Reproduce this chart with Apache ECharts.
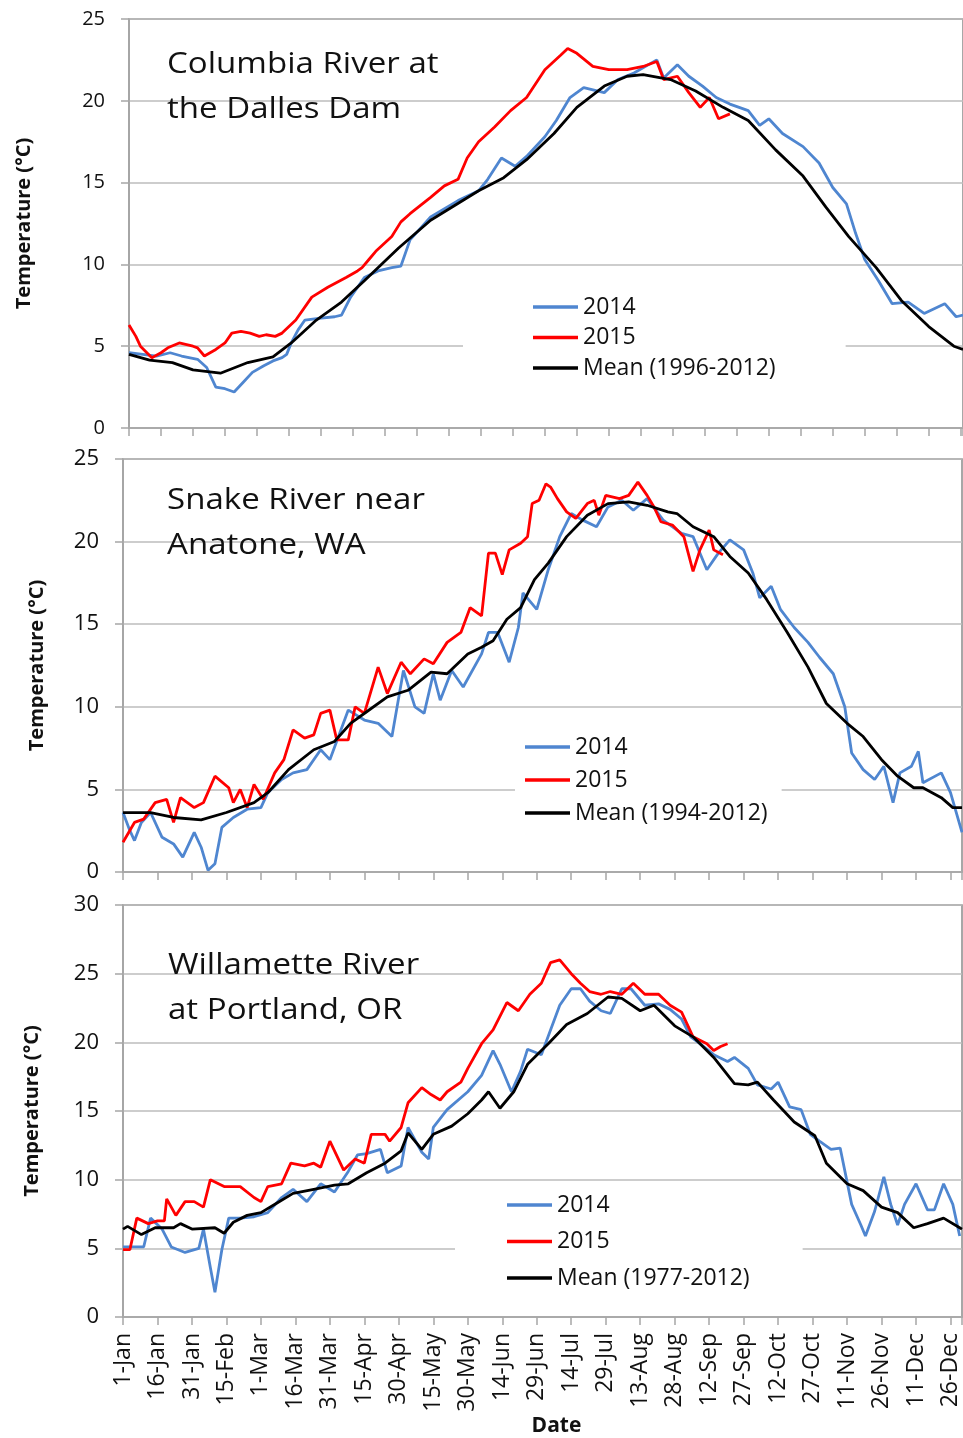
<!DOCTYPE html>
<html>
<head>
<meta charset="utf-8">
<script src="https://cdn.jsdelivr.net/npm/echarts@6/dist/echarts.min.js"></script>
<style>
  html, body { margin: 0; padding: 0; background: #fff; }
  #chart { width: 963px; height: 1438px; }
</style>
</head>
<body>
<div id="chart"></div>
<script>
// day of year (0 = 1-Jan) and temperature in degC
const tickLabels = ['1-Jan', '16-Jan', '31-Jan', '15-Feb', '1-Mar', '16-Mar', '31-Mar', '15-Apr', '30-Apr',
  '15-May', '30-May', '14-Jun', '29-Jun', '14-Jul', '29-Jul', '13-Aug', '28-Aug', '12-Sep', '27-Sep',
  '12-Oct', '27-Oct', '11-Nov', '26-Nov', '11-Dec', '26-Dec'];

const seriesNames = ['2014', '2015'];
const meanNames = ['Mean (1996-2012)', 'Mean (1994-2012)', 'Mean (1977-2012)'];
const panelTitles = ['Columbia River at\nthe Dalles Dam', 'Snake River near\nAnatone, WA', 'Willamette River\nat Portland, OR'];
const yMax = [25, 25, 30];

// Columbia River at the Dalles Dam
const colMean = [[0,4.5],[9,4.15],[19,4.0],[28,3.55],[40,3.35],[52,4.0],[63,4.35],[71,5.2],[82,6.6],[93,7.7],[103,9.0],[118,11.0],[132,12.7],[153,14.5],[164,15.3],[174,16.4],[186,18.0],[196,19.6],[208,20.9],[218,21.5],[225,21.6],[237,21.3],[248,20.6],[260,19.6],[271,18.8],[283,17.0],[295,15.4],[305,13.5],[315,11.7],[327,9.8],[338,7.8],[350,6.2],[361,5.0],[365,4.8]];
const col2014 = [[0,4.6],[6,4.5],[12,4.4],[18,4.6],[23,4.4],[30,4.2],[34,3.7],[38,2.5],[42,2.4],[46,2.2],[50,2.8],[54,3.4],[59,3.8],[63,4.1],[67,4.3],[69,4.5],[71,5.2],[74,6.0],[77,6.6],[83,6.7],[90,6.8],[93,6.9],[97,8.0],[103,9.2],[109,9.6],[115,9.8],[119,9.9],[123,11.5],[132,12.9],[144,13.9],[153,14.5],[157,15.2],[163,16.5],[169,16.0],[174,16.6],[182,17.8],[187,18.8],[193,20.2],[199,20.8],[208,20.5],[214,21.3],[221,21.7],[231,22.5],[234,21.4],[240,22.2],[245,21.5],[251,20.9],[257,20.2],[263,19.8],[271,19.4],[276,18.5],[280,18.9],[286,18.0],[295,17.2],[302,16.2],[308,14.7],[314,13.7],[318,11.9],[322,10.3],[328,9.0],[334,7.6],[341,7.7],[348,7.0],[357,7.6],[362,6.8],[365,6.9]];
const col2015 = [[0,6.3],[3,5.6],[5,5.0],[10,4.3],[14,4.6],[17,4.9],[22,5.2],[28,5.0],[30,4.9],[33,4.4],[38,4.8],[42,5.2],[45,5.8],[49,5.9],[53,5.8],[57,5.6],[60,5.7],[64,5.6],[67,5.8],[73,6.6],[80,8.0],[87,8.6],[95,9.2],[100,9.6],[102,9.8],[105,10.3],[108,10.8],[115,11.7],[119,12.6],[123,13.1],[132,14.1],[138,14.8],[144,15.2],[148,16.5],[153,17.5],[160,18.4],[167,19.4],[174,20.2],[182,21.9],[189,22.8],[192,23.2],[196,22.9],[203,22.1],[210,21.9],[218,21.9],[225,22.1],[231,22.4],[234,21.3],[240,21.5],[245,20.5],[250,19.6],[254,20.2],[258,18.9],[263,19.2]];

// Snake River near Anatone, WA
const snkMean = [[0,3.6],[12,3.6],[22,3.3],[34,3.15],[45,3.6],[57,4.2],[63,4.8],[72,6.2],[83,7.4],[92,7.9],[99,9.0],[106,9.7],[115,10.6],[124,11.0],[134,12.1],[141,12.0],[150,13.2],[156,13.6],[161,14.0],[167,15.3],[173,16.0],[179,17.7],[185,18.7],[193,20.3],[202,21.6],[211,22.3],[220,22.4],[228,22.2],[237,21.8],[241,21.7],[248,20.9],[257,20.3],[264,19.1],[272,18.1],[280,16.5],[289,14.5],[298,12.4],[306,10.2],[315,9.0],[322,8.2],[330,6.8],[337,5.8],[344,5.1],[348,5.1],[356,4.5],[361,3.9],[365,3.9]];
const snk2014 = [[0,3.6],[3,2.5],[5,1.9],[8,3.0],[12,3.6],[17,2.1],[22,1.7],[26,0.9],[31,2.4],[34,1.5],[37,0.1],[40,0.5],[43,2.7],[48,3.3],[54,3.8],[60,3.9],[63,4.8],[69,5.6],[74,6.0],[80,6.2],[86,7.4],[90,6.8],[98,9.8],[105,9.2],[111,9.0],[117,8.2],[122,12.2],[127,10.0],[131,9.6],[135,12.0],[138,10.4],[143,12.2],[148,11.2],[156,13.2],[159,14.5],[163,14.5],[168,12.7],[172,14.8],[174,16.9],[180,15.9],[185,18.3],[190,20.3],[195,21.7],[200,21.3],[206,20.9],[211,22.1],[217,22.5],[222,21.9],[228,22.6],[235,21.3],[243,20.5],[248,20.3],[254,18.3],[259,19.3],[264,20.1],[270,19.5],[274,18.1],[277,16.6],[282,17.3],[286,15.9],[292,14.8],[298,13.9],[303,13.0],[309,12.0],[314,10.0],[317,7.2],[322,6.2],[327,5.6],[331,6.4],[335,4.2],[338,6.0],[343,6.4],[346,7.3],[348,5.4],[356,6.0],[360,4.8],[365,2.4]];
const snk2015 = [[0,1.8],[5,3.0],[9,3.2],[14,4.2],[19,4.4],[22,3.0],[25,4.5],[31,3.9],[35,4.2],[40,5.8],[46,5.1],[48,4.2],[51,5.0],[54,3.9],[57,5.3],[61,4.4],[66,6.0],[70,6.8],[74,8.6],[79,8.1],[83,8.3],[86,9.6],[90,9.8],[93,8.0],[98,8.0],[101,10.0],[105,9.6],[111,12.4],[115,10.8],[121,12.7],[125,12.0],[131,12.9],[135,12.6],[141,13.9],[147,14.5],[151,16.0],[156,15.5],[159,19.3],[162,19.3],[165,18.0],[168,19.5],[173,19.9],[176,20.3],[178,22.3],[181,22.5],[184,23.5],[186,23.3],[189,22.6],[193,21.8],[197,21.4],[202,22.3],[205,22.5],[207,21.6],[210,22.8],[216,22.6],[220,22.8],[224,23.6],[228,22.8],[231,22.1],[234,21.2],[239,21.0],[244,20.3],[248,18.2],[251,19.5],[255,20.7],[257,19.5],[261,19.2]];

// Willamette River at Portland, OR
const wilMean = [[0,6.4],[2,6.6],[8,6.0],[14,6.5],[22,6.5],[25,6.8],[30,6.4],[40,6.5],[44,6.1],[48,6.9],[54,7.4],[60,7.6],[67,8.3],[74,9.0],[83,9.3],[92,9.6],[98,9.7],[106,10.5],[114,11.2],[121,12.1],[124,13.4],[130,12.2],[135,13.3],[143,13.9],[150,14.8],[156,15.8],[159,16.4],[164,15.2],[170,16.4],[176,18.4],[185,19.9],[193,21.3],[202,22.1],[211,23.3],[217,23.2],[225,22.3],[231,22.7],[240,21.2],[248,20.4],[257,18.9],[266,17.0],[272,16.9],[276,17.1],[283,15.8],[292,14.2],[301,13.2],[306,11.2],[315,9.7],[322,9.2],[330,8.0],[337,7.6],[344,6.5],[350,6.8],[357,7.2],[364,6.5],[365,6.4]];
const wil2014 = [[0,5.1],[5,5.1],[9,5.1],[12,7.2],[17,6.4],[21,5.1],[27,4.7],[33,5.0],[35,6.4],[38,3.6],[40,1.8],[43,4.9],[46,7.2],[51,7.2],[57,7.3],[63,7.6],[69,8.7],[74,9.3],[80,8.4],[86,9.7],[92,9.1],[98,10.6],[102,11.8],[106,11.9],[112,12.2],[115,10.5],[121,11.0],[124,13.8],[130,12.0],[133,11.5],[135,13.8],[141,15.1],[150,16.4],[156,17.6],[161,19.4],[164,18.4],[169,16.4],[173,17.9],[176,19.5],[182,19.1],[186,20.9],[190,22.7],[195,23.9],[199,23.9],[203,23.0],[208,22.3],[212,22.1],[217,23.9],[221,23.9],[227,22.7],[233,22.8],[238,22.4],[243,21.7],[247,20.4],[251,19.9],[257,19.1],[263,18.6],[266,18.9],[272,18.1],[276,16.9],[282,16.6],[285,17.1],[290,15.3],[295,15.1],[299,13.3],[303,12.8],[308,12.2],[312,12.3],[317,8.2],[321,6.7],[323,5.9],[327,7.7],[331,10.2],[334,8.2],[337,6.7],[340,8.2],[345,9.7],[350,7.8],[353,7.8],[357,9.7],[361,8.2],[364,5.9]];
const wil2015 = [[0,4.9],[3,4.9],[6,7.2],[11,6.8],[15,7.0],[18,7.0],[19,8.6],[23,7.4],[27,8.4],[31,8.4],[35,8.0],[38,10.0],[44,9.5],[51,9.5],[57,8.7],[60,8.4],[63,9.5],[69,9.7],[73,11.2],[79,11.0],[83,11.2],[86,10.9],[90,12.8],[96,10.7],[101,11.5],[105,11.2],[108,13.3],[114,13.3],[116,12.8],[121,13.8],[124,15.6],[130,16.7],[134,16.2],[138,15.8],[141,16.4],[147,17.1],[150,18.1],[156,19.9],[161,20.9],[167,22.9],[172,22.3],[177,23.5],[182,24.3],[186,25.8],[190,26.0],[195,25.0],[199,24.3],[203,23.7],[208,23.5],[212,23.7],[217,23.5],[222,24.3],[227,23.5],[233,23.5],[238,22.7],[243,22.2],[248,20.4],[254,19.9],[257,19.4],[260,19.7],[263,19.9]];

const data2014 = [col2014, snk2014, wil2014];
const data2015 = [col2015, snk2015, wil2015];
const dataMean = [colMean, snkMean, wilMean];

const BLUE = '#4f86d0';
const RED = '#ff0000';
const FONT = '"Open Sans", sans-serif';

// layout of the three stacked panels
const layout = [
  { left: 129, top: 19, width: 840, height: 409, tick: 14, labelSize: 20, nameGap: 95,
    legend: { left: 463, top: 287, pad: [8, 70, 8, 70], gap: 6.5 }, title: { x: 167, y: 42 } },
  { left: 123, top: 459, width: 839, height: 413, tick: 15, labelSize: 22, nameGap: 76,
    legend: { left: 515, top: 727, pad: [8, 14, 8, 10], gap: 9 }, title: { x: 167, y: 478 } },
  { left: 123, top: 905, width: 839, height: 412, tick: 15, labelSize: 22, nameGap: 81,
    legend: { left: 455, top: 1185, pad: [8, 53, 8, 52], gap: 12.5 }, title: { x: 168, y: 943 } }
];

const chart = echarts.init(document.getElementById('chart'), null, { renderer: 'canvas' });

const grids = [], xAxes = [], yAxes = [], series = [], legends = [], graphics = [];

layout.forEach((p, i) => {
  const last = i === layout.length - 1;
  grids.push({
    left: p.left, top: p.top, width: p.width, height: p.height,
    show: true, borderColor: '#8a8a8a', borderWidth: 1.5, backgroundColor: 'transparent'
  });
  xAxes.push({
    type: 'value', gridIndex: i, min: 0, max: 365, interval: p.tick,
    axisLine: { show: true, onZero: false, lineStyle: { color: '#a6a6a6', width: 1.5 } },
    axisTick: { show: true, length: 8, lineStyle: { color: '#a6a6a6', width: 1.5 } },
    splitLine: { show: false },
    axisLabel: {
      show: last, rotate: 90, margin: 16, fontSize: 23, fontFamily: FONT, color: '#111',
      formatter: (v) => (v % 15 === 0 && v / 15 < tickLabels.length ? tickLabels[v / 15] : '')
    },
    name: last ? 'Date' : '', nameLocation: 'middle', nameGap: 98,
    nameTextStyle: { fontSize: 21, fontWeight: 'bold', fontFamily: FONT, color: '#111', padding: [0, 0, 0, 28] }
  });
  yAxes.push({
    type: 'value', gridIndex: i, min: 0, max: yMax[i], interval: 5,
    axisLine: { show: true, lineStyle: { color: '#a6a6a6', width: 1.5 } },
    axisTick: { show: true, length: 8, lineStyle: { color: '#a6a6a6', width: 1.5 } },
    splitLine: { show: true, lineStyle: { color: '#bdbdbd', width: 1.5 } },
    axisLabel: { margin: 24, fontSize: p.labelSize, fontFamily: FONT, color: '#111' },
    name: 'Temperature (°C)', nameLocation: 'middle', nameGap: p.nameGap,
    nameTextStyle: { fontSize: 20, fontWeight: 'bold', fontFamily: FONT, color: '#111' }
  });
  const line = (name, data, color, z) => ({
    name, type: 'line', xAxisIndex: i, yAxisIndex: i, data, z,
    symbol: 'none', showSymbol: false, animation: false,
    lineStyle: { color, width: 2.8 }, itemStyle: { color }
  });
  series.push(line(seriesNames[0], data2014[i], BLUE, 2));
  series.push(line(seriesNames[1], data2015[i], RED, 3));
  series.push(line(meanNames[i], dataMean[i], '#000000', 4));
  legends.push({
    orient: 'vertical', left: p.legend.left, top: p.legend.top,
    padding: p.legend.pad, itemGap: p.legend.gap, backgroundColor: '#ffffff',
    icon: 'rect', itemWidth: 45, itemHeight: 3.5, selectedMode: false,
    data: [seriesNames[0], seriesNames[1], meanNames[i]],
    textStyle: { fontSize: 23, fontFamily: FONT, color: '#111', lineHeight: 24 }
  });
  graphics.push({
    type: 'text', x: p.title.x, y: p.title.y, scaleX: 1.14, z: 10,
    style: { text: panelTitles[i], fontSize: 29, fontFamily: FONT, fill: '#111', lineHeight: 45 }
  });
});

chart.setOption({
  animation: false,
  backgroundColor: '#ffffff',
  grid: grids,
  xAxis: xAxes,
  yAxis: yAxes,
  legend: legends,
  series,
  graphic: graphics
});
</script>
</body>
</html>
